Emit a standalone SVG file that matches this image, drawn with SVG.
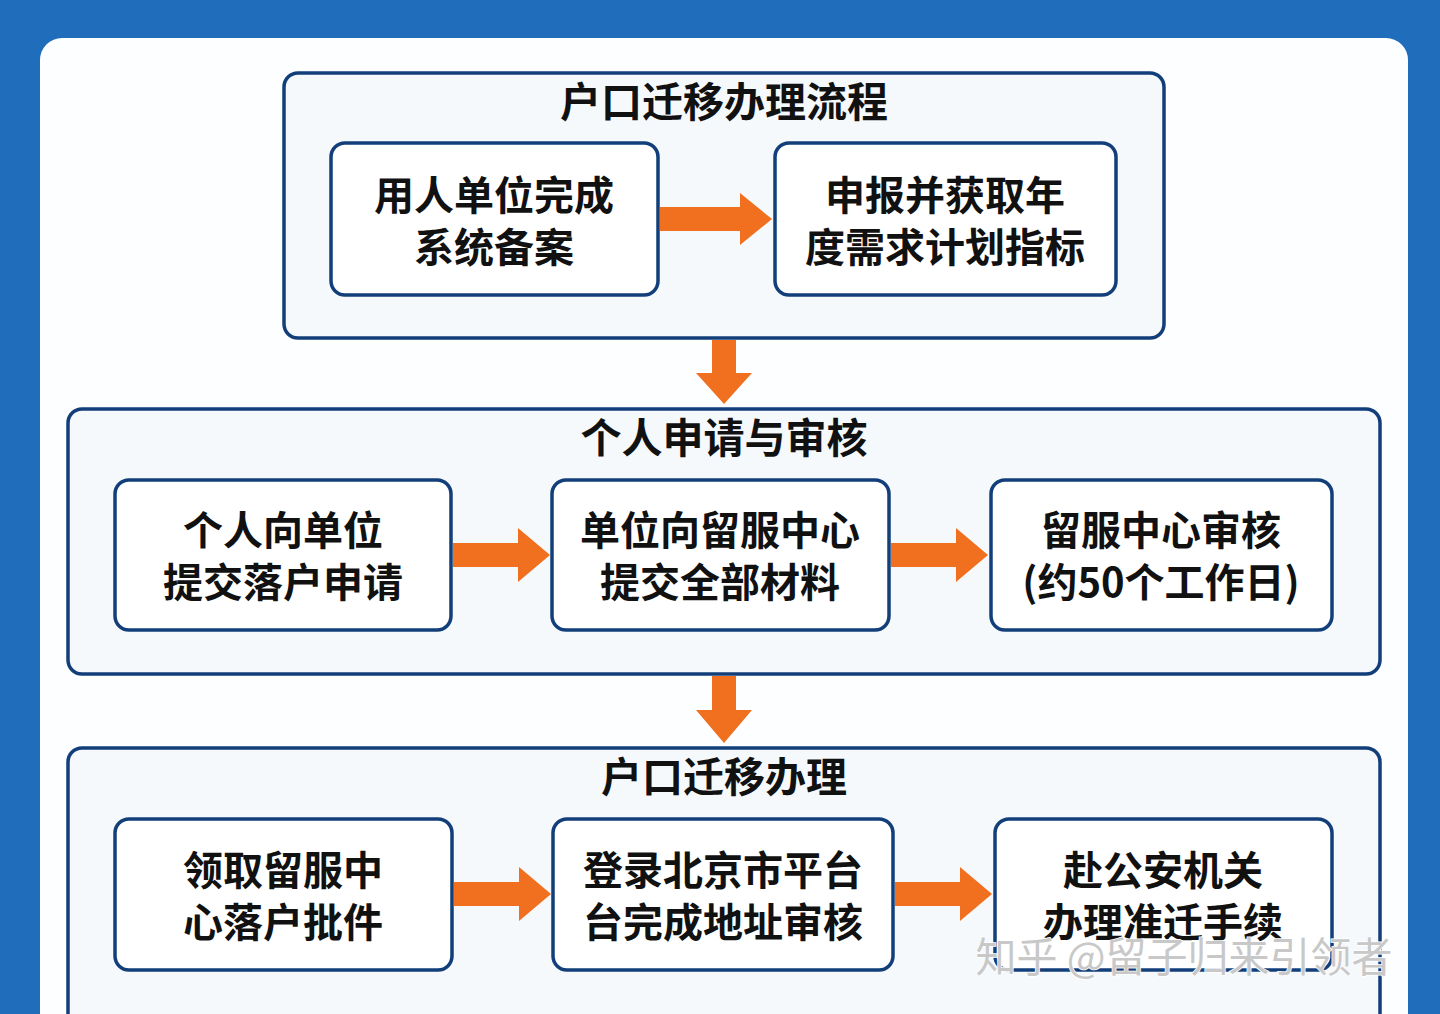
<svg xmlns="http://www.w3.org/2000/svg" width="1440" height="1014" viewBox="0 0 1440 1014">
<defs>
<style>
.grp{fill:#f5f9fc;stroke:#123f7a;stroke-width:3.5}
.nd{fill:#ffffff;stroke:#123f7a;stroke-width:3.5}
text{font-family:"Noto Sans CJK SC","Noto Sans",sans-serif;font-weight:bold;fill:#111;text-anchor:middle}
.t{font-size:41px}
.n{font-size:40px}
.arr{fill:#f07020}
</style>
</defs>
<rect width="1440" height="1014" fill="#1f6dbb"/>
<rect x="40" y="38" width="1368" height="1010" rx="22" fill="#fdfeff"/>
<g id="g1">
<rect class="grp" x="284" y="73" width="880" height="265" rx="14"/>
<text class="t" x="724" y="117">户口迁移办理流程</text>
</g>
<g id="n1"><rect class="nd" x="331" y="143" width="327" height="152" rx="14"/>
<text class="n" x="494" y="210">用人单位完成</text><text class="n" x="494" y="262">系统备案</text></g>
<g id="n2"><rect class="nd" x="775" y="143" width="341" height="152" rx="14"/>
<text class="n" x="945" y="210">申报并获取年</text><text class="n" x="945" y="262">度需求计划指标</text></g>
<g id="g2">
<rect class="grp" x="68" y="409" width="1312" height="265" rx="14"/>
<text class="t" x="724" y="453">个人申请与审核</text>
</g>
<g id="n3"><rect class="nd" x="115" y="480" width="336" height="150" rx="14"/>
<text class="n" x="283" y="545">个人向单位</text><text class="n" x="283" y="597">提交落户申请</text></g>
<g id="n4"><rect class="nd" x="552" y="480" width="337" height="150" rx="14"/>
<text class="n" x="720" y="545">单位向留服中心</text><text class="n" x="720" y="597">提交全部材料</text></g>
<g id="n5"><rect class="nd" x="991" y="480" width="341" height="150" rx="14"/>
<text class="n" x="1161" y="545">留服中心审核</text><text class="n" x="1161" y="597">(约50个工作日)</text></g>
<g id="g3">
<rect class="grp" x="68" y="748" width="1312" height="290" rx="14"/>
<text class="t" x="724" y="792">户口迁移办理</text>
</g>
<g id="n6"><rect class="nd" x="115" y="819" width="337" height="151" rx="14"/>
<text class="n" x="283" y="885">领取留服中</text><text class="n" x="283" y="937">心落户批件</text></g>
<g id="n7"><rect class="nd" x="553" y="819" width="340" height="151" rx="14"/>
<text class="n" x="723" y="885">登录北京市平台</text><text class="n" x="723" y="937">台完成地址审核</text></g>
<g id="n8"><rect class="nd" x="995" y="819" width="337" height="151" rx="14"/>
<text class="n" x="1163" y="885">赴公安机关</text><text class="n" x="1163" y="937">办理准迁手续</text></g>
<g id="connectors">
<polygon class="arr" points="660,207 740,207 740,193 772,219 740,245 740,231 660,231"/>
<polygon class="arr" points="712,340 736,340 736,373 752,373 724,404 696,373 712,373"/>
<polygon class="arr" points="453,543 518,543 518,528 550,555 518,582 518,567 453,567"/>
<polygon class="arr" points="891,543 956,543 956,528 988,555 956,582 956,567 891,567"/>
<polygon class="arr" points="712,676 736,676 736,710 752,710 724,743 696,710 712,710"/>
<polygon class="arr" points="454,882 519,882 519,867 551,894 519,921 519,906 454,906"/>
<polygon class="arr" points="895,882 960,882 960,867 992,894 960,921 960,906 895,906"/>
</g>
<text x="1184" y="972" style="font-size:41px;font-weight:normal;fill:#c8c8c8;stroke:#ffffff;stroke-width:1.5;paint-order:stroke">知乎 @留子归来引领者</text>
</svg>
